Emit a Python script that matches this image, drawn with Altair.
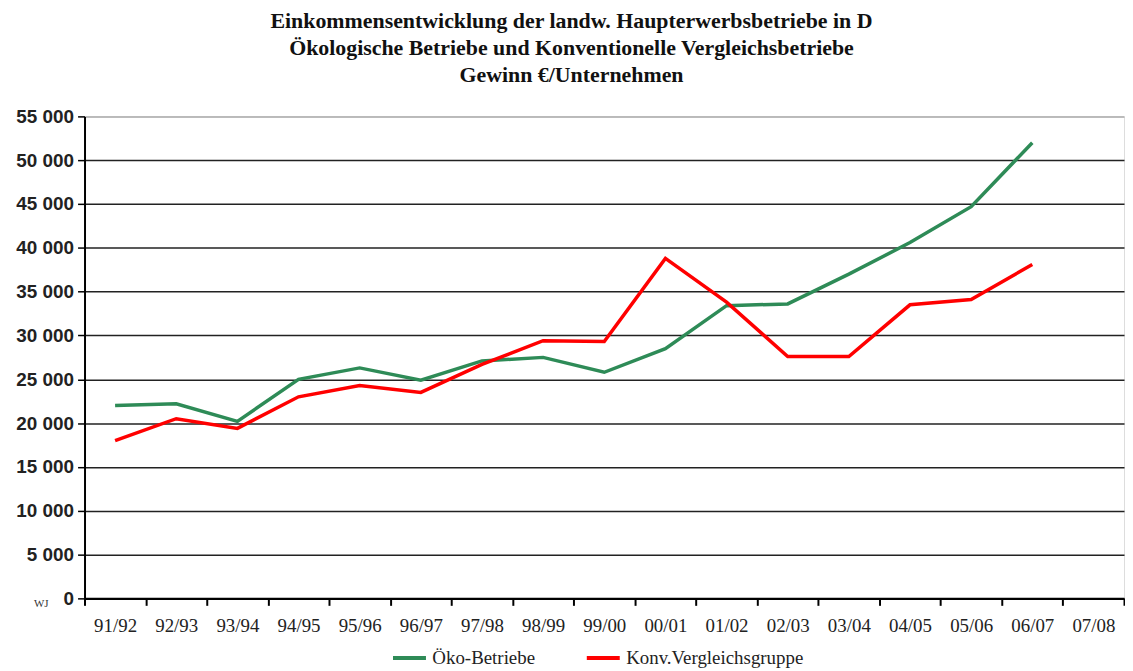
import altair as alt
import pandas as pd

years = ["91/92", "92/93", "93/94", "94/95", "95/96", "96/97", "97/98", "98/99",
         "99/00", "00/01", "01/02", "02/03", "03/04", "04/05", "05/06", "06/07", "07/08"]
oeko = [22000, 22200, 20200, 25000, 26300, 24900, 27100, 27500,
        25800, 28500, 33400, 33600, 37000, 40600, 44700, 52000]
konv = [18000, 20500, 19400, 23000, 24300, 23500, 26700, 29400,
        29300, 38800, 33800, 27600, 27600, 33500, 34100, 38100]
series_names = ["Öko-Betriebe", "Konv.Vergleichsgruppe"]
series_colors = ["#2e8b57", "#ff0000"]
y_ticks = [0, 5000, 10000, 15000, 20000, 25000, 30000, 35000, 40000, 45000, 50000, 55000]

rows = []
for i, v in enumerate(oeko):
    rows.append({"Jahr": years[i], "Gewinn": v, "Gruppe": series_names[0], "o": 0})
for i, v in enumerate(konv):
    rows.append({"Jahr": years[i], "Gewinn": v, "Gruppe": series_names[1], "o": 1})
df = pd.DataFrame(rows)

chart = alt.Chart(df).mark_line(strokeWidth=3.5, strokeJoin="miter").encode(
    x=alt.X("Jahr:N", sort=years, bandPosition=0.5,
            scale=alt.Scale(type="band", domain=years, paddingInner=0, paddingOuter=0),
            axis=alt.Axis(title=None, labelAngle=0, tickBand="extent", tickSize=7,
                          tickWidth=2, tickColor="#000", domainColor="#000", domainWidth=2.5,
                          labelFont="Liberation Serif", labelFontSize=19, labelColor="#222",
                          labelPadding=11, grid=False)),
    y=alt.Y("Gewinn:Q", scale=alt.Scale(domain=[0, 55000], nice=False),
            axis=alt.Axis(values=y_ticks, format=",.0f", labelExpr="replace(datum.label, ',', ' ')",
                          title="WJ", titleAngle=0, titleX=-44, titleY=490, titleAlign="center",
                          titleBaseline="middle",
                          titleFont="Liberation Serif", titleFontSize=11, titleFontWeight="normal",
                          titleColor="#333",
                          labelFont="Liberation Sans", labelFontSize=19, labelFontWeight="bold",
                          labelColor="#222", labelPadding=4, tickSize=7, tickWidth=1.5,
                          tickColor="#000", domainColor="#000", domainWidth=2,
                          gridColor={"condition": {"test": "datum.value == 55000", "value": "#aaaaaa"},
                                     "value": "#222222"},
                          gridWidth=1.5)),
    color=alt.Color("Gruppe:N", sort=series_names,
                    scale=alt.Scale(domain=series_names, range=series_colors),
                    legend=alt.Legend(title=None, orient="none", direction="horizontal",
                                      legendX=308, legendY=526,
                                      symbolType="stroke", symbolSize=1100, symbolStrokeWidth=4,
                                      labelFont="Liberation Serif", labelFontSize=19,
                                      labelColor="#222", columnPadding=43,
                                      labelLimit=400)),
    order=alt.Order("o:Q")
).properties(
    width=1046,
    height=485,
    padding={"left": 7, "top": 0, "right": 0, "bottom": 0},
    title=alt.TitleParams(
        ["Einkommensentwicklung der landw. Haupterwerbsbetriebe in D",
         "Ökologische Betriebe und  Konventionelle Vergleichsbetriebe",
         "Gewinn €/Unternehmen"],
        font="Liberation Serif", fontSize=22, fontWeight="bold", color="#111",
        lineHeight=27, offset=21, dx=-33, anchor="middle")
).configure_view(stroke="#aaaaaa", strokeWidth=1).configure(background="white")

chart.save("out.html", embed_options={"renderer": "svg", "actions": False})
